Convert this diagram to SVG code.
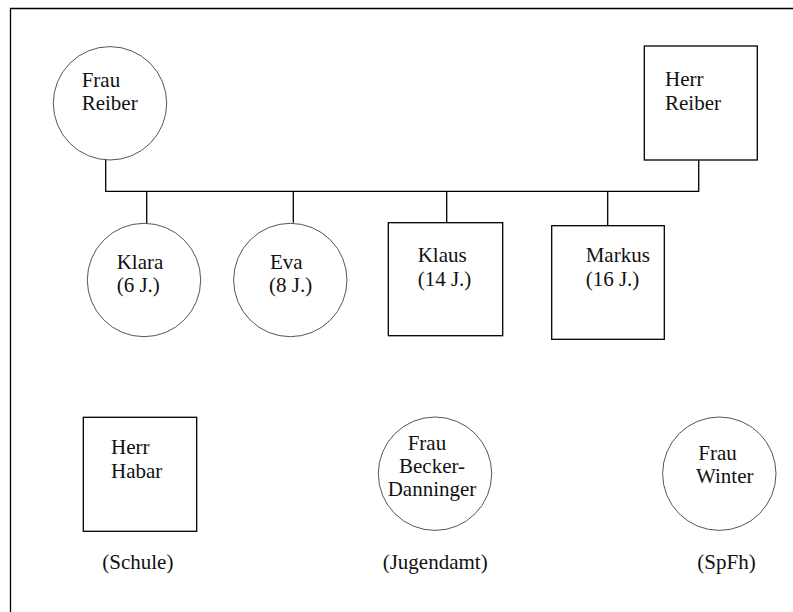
<svg xmlns="http://www.w3.org/2000/svg" width="793" height="612" viewBox="0 0 793 612">
<style>
  .c { fill: #fff; stroke: #555; stroke-width: 1; }
  .b { fill: #fff; stroke: #000; stroke-width: 1.3; }
  .l { stroke: #000; stroke-width: 1.3; fill: none; }
  text { font-family: "Liberation Serif", "Times New Roman", serif; font-size: 21px; fill: #111; }
</style>
<rect width="793" height="612" fill="#fff"/>
<path class="l" d="M10.5 612 V8.5 H793"/>
<g id="connectors">
  <path class="l" d="M105.7 160 V191.3 H698.7 V160"/>
  <path class="l" d="M146.7 191.3 V223.5"/>
  <path class="l" d="M293.3 191.3 V222.7"/>
  <path class="l" d="M446.7 191.3 V222.7"/>
  <path class="l" d="M607.7 191.3 V225.7"/>
</g>
<g id="frau-reiber">
  <circle class="c" cx="110" cy="103.3" r="56.7"/>
  <text x="81.7" y="86.7">Frau</text>
  <text x="81.7" y="110">Reiber</text>
</g>
<g id="herr-reiber">
  <rect class="b" x="644.3" y="46" width="113" height="114"/>
  <text x="665" y="86">Herr</text>
  <text x="665" y="110">Reiber</text>
</g>
<g id="klara">
  <circle class="c" cx="144" cy="280" r="56.7"/>
  <text x="116.7" y="269">Klara</text>
  <text x="116.7" y="292">(6 J.)</text>
</g>
<g id="eva">
  <circle class="c" cx="290.3" cy="280" r="56.7"/>
  <text x="270" y="269">Eva</text>
  <text x="269" y="292">(8 J.)</text>
</g>
<g id="klaus">
  <rect class="b" x="388.3" y="222.7" width="114.4" height="113"/>
  <text x="417.7" y="261.7">Klaus</text>
  <text x="417.7" y="285.5">(14 J.)</text>
</g>
<g id="markus">
  <rect class="b" x="551.7" y="225.7" width="112.6" height="113.6"/>
  <text x="585.7" y="261.7">Markus</text>
  <text x="585.7" y="285.5">(16 J.)</text>
</g>
<g id="herr-habar">
  <rect class="b" x="83.3" y="417.3" width="113.4" height="114"/>
  <text x="111" y="454">Herr</text>
  <text x="111" y="478">Habar</text>
</g>
<text x="102.3" y="569">(Schule)</text>
<g id="frau-becker-danninger">
  <circle class="c" cx="435" cy="473.7" r="56.7"/>
  <text x="407.7" y="450">Frau</text>
  <text x="399" y="473">Becker-</text>
  <text x="387.7" y="496">Danninger</text>
</g>
<text x="382.7" y="569">(Jugendamt)</text>
<g id="frau-winter">
  <circle class="c" cx="719.3" cy="473.7" r="56.7"/>
  <text x="698.3" y="460">Frau</text>
  <text x="696" y="483.3">Winter</text>
</g>
<text x="697.3" y="569">(SpFh)</text>
</svg>
